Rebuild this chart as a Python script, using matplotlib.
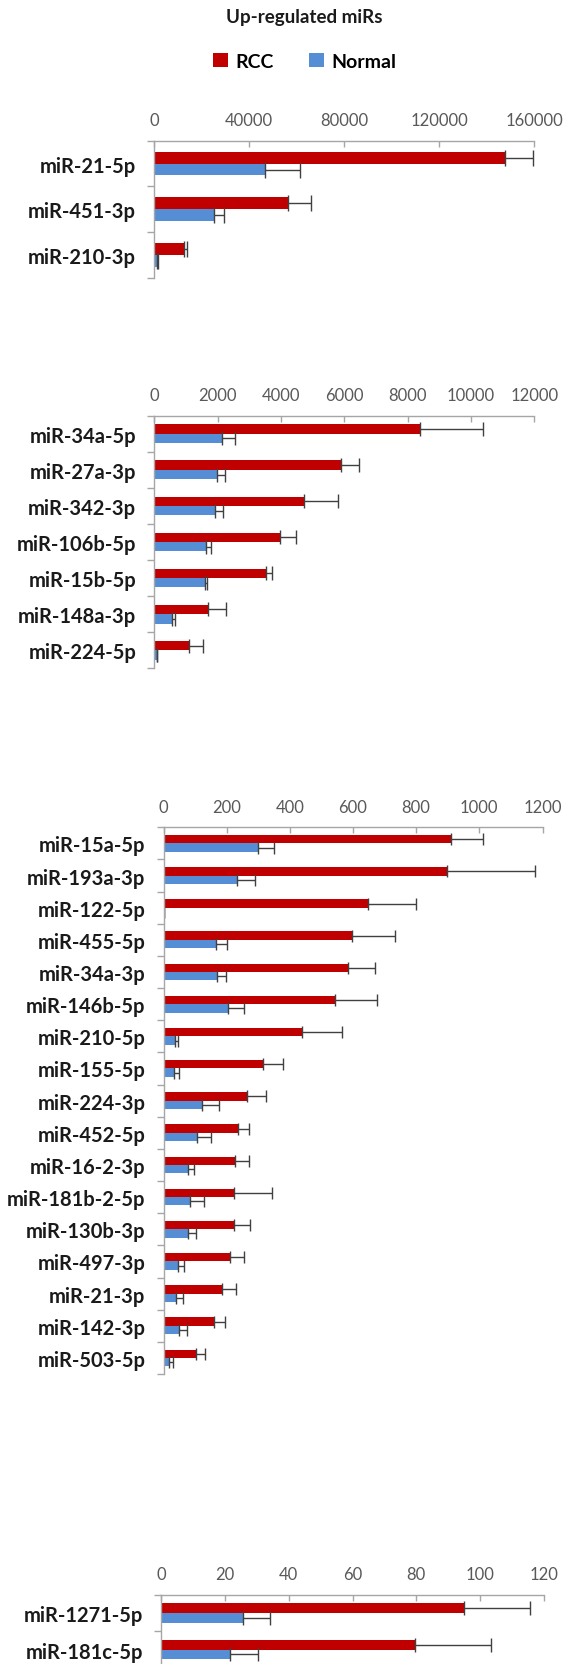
#------------------------------------------------*
# Up-regulated miRs: RCC vs Normal, 4 panels     *
#------------------------------------------------*
import numpy as np
import matplotlib
matplotlib.use('Agg')
import matplotlib.pyplot as plt

plt.rcParams['font.family'] = ['Lato', 'DejaVu Sans']

#----------data----------------------------------*
mirs_1 = ['miR-21-5p', 'miR-451-3p', 'miR-210-3p']
rcc_1 = [147700, 56400, 12600]
rcc_err_1 = [11800, 9600, 1200]
normal_1 = [46400, 25100, 1200]
normal_err_1 = [14900, 4400, 300]
ticks_1 = [0, 40000, 80000, 120000, 160000]

mirs_2 = ['miR-34a-5p', 'miR-27a-3p', 'miR-342-3p', 'miR-106b-5p',
          'miR-15b-5p', 'miR-148a-3p', 'miR-224-5p']
rcc_2 = [8380, 5880, 4740, 3960, 3530, 1700, 1080]
rcc_err_2 = [2000, 580, 1050, 500, 200, 560, 455]
normal_2 = [2130, 1970, 1910, 1640, 1590, 570, 70]
normal_err_2 = [420, 260, 270, 150, 60, 80, 20]
ticks_2 = [0, 2000, 4000, 6000, 8000, 10000, 12000]

mirs_3 = ['miR-15a-5p', 'miR-193a-3p', 'miR-122-5p', 'miR-455-5p',
          'miR-34a-3p', 'miR-146b-5p', 'miR-210-5p', 'miR-155-5p',
          'miR-224-3p', 'miR-452-5p', 'miR-16-2-3p', 'miR-181b-2-5p',
          'miR-130b-3p', 'miR-497-3p', 'miR-21-3p', 'miR-142-3p',
          'miR-503-5p']
rcc_3 = [909, 899, 646, 596, 585, 544, 438, 316, 263, 237, 227, 224,
         222, 212, 186, 161, 103]
rcc_err_3 = [103, 277, 153, 137, 84, 131, 128, 61, 61, 35, 43, 118,
             51, 42, 43, 35, 29]
normal_3 = [299, 232, 2, 165, 169, 205, 36, 33, 122, 105, 76, 84,
            76, 47, 40, 50, 18]
normal_err_3 = [52, 57, 0, 37, 28, 50, 10, 15, 55, 45, 21, 45,
                28, 17, 23, 25, 12]
ticks_3 = [0, 200, 400, 600, 800, 1000, 1200]

mirs_4 = ['miR-1271-5p', 'miR-181c-5p']
rcc_4 = [95.0, 79.7]
rcc_err_4 = [20.5, 23.7]
normal_4 = [25.8, 21.7]
normal_err_4 = [8.3, 8.7]
ticks_4 = [0, 20, 40, 60, 80, 100, 120]

#----------style-------------*
RED = '#C00000'
BLUE = '#558ED5'
AXIS = '#A6A6A6'
ERR = '#404040'
W, H = 564, 1665

fig = plt.figure(figsize=(W / 100, H / 100), dpi=100)


def panel(px_box, names, rcc, rcc_err, normal, normal_err, ticks, cap):
    x0, x1, y0, y1 = px_box
    ax = fig.add_axes([x0 / W, 1 - y1 / H, (x1 - x0) / W, (y1 - y0) / H])
    n = len(names)
    centers = np.arange(n) + 0.5
    h = 0.26
    b_red = ax.barh(centers - h / 2, rcc, height=h, color=RED, label='RCC')
    b_blue = ax.barh(centers + h / 2, normal, height=h, color=BLUE,
                     label='Normal')
    ax.errorbar(rcc, centers - h / 2, xerr=[np.zeros(n), rcc_err],
                fmt='none', ecolor=ERR, elinewidth=1, capsize=cap,
                capthick=1)
    ax.errorbar(normal, centers + h / 2, xerr=[np.zeros(n), normal_err],
                fmt='none', ecolor=ERR, elinewidth=1, capsize=cap,
                capthick=1)

    ax.set_ylim(n, 0)
    ax.set_xlim(ticks[0], ticks[-1])

    # category boundaries carry the tick marks, centres carry the labels
    ax.set_yticks(np.arange(n + 1))
    ax.set_yticklabels([])
    ax.set_yticks(centers, minor=True)
    ax.set_yticklabels(names, minor=True, fontsize=14.5, fontweight='bold',
                       color='#1A1A1A')
    ax.tick_params(axis='y', which='major', direction='out', length=5,
                   color=AXIS, width=1)
    ax.tick_params(axis='y', which='minor', length=0, pad=13)

    ax.xaxis.tick_top()
    ax.set_xticks(ticks)
    ax.set_xticklabels([str(t) for t in ticks])
    ax.tick_params(axis='x', direction='in', length=4, color=AXIS, width=1,
                   labelsize=12, labelcolor='#595959', pad=9)

    for s in ['right', 'bottom']:
        ax.spines[s].set_visible(False)
    for s in ['top', 'left']:
        ax.spines[s].set_color(AXIS)
        ax.spines[s].set_linewidth(1)
    return b_red, b_blue


b_red, b_blue = panel((154.3, 534.3, 141.7, 279.0), mirs_1, rcc_1,
                      rcc_err_1, normal_1, normal_err_1, ticks_1, 6)
panel((154.3, 534.3, 416.7, 669.3), mirs_2, rcc_2, rcc_err_2,
      normal_2, normal_err_2, ticks_2, 5)
panel((163.5, 542.5, 828.3, 1375.0), mirs_3, rcc_3, rcc_err_3,
      normal_3, normal_err_3, ticks_3, 4.5)
panel((161.0, 544.0, 1595.7, 1668.9), mirs_4, rcc_4, rcc_err_4,
      normal_4, normal_err_4, ticks_4, 5)

#----------title and legend-------------*
fig.text(304 / W, 1 - 17 / H, 'Up-regulated miRs', ha='center',
         va='center', fontsize=13.5, fontweight='bold', color='#1A1A1A')
fig.legend([b_red, b_blue], ['RCC', 'Normal'], loc='center',
           bbox_to_anchor=(305 / W, 1 - 62 / H), ncol=2, frameon=False,
           handlelength=0.75, handleheight=0.75, handletextpad=0.4,
           columnspacing=1.8, prop={'size': 14, 'weight': 'bold'})

fig.savefig('out.png', dpi=100, facecolor='white')
